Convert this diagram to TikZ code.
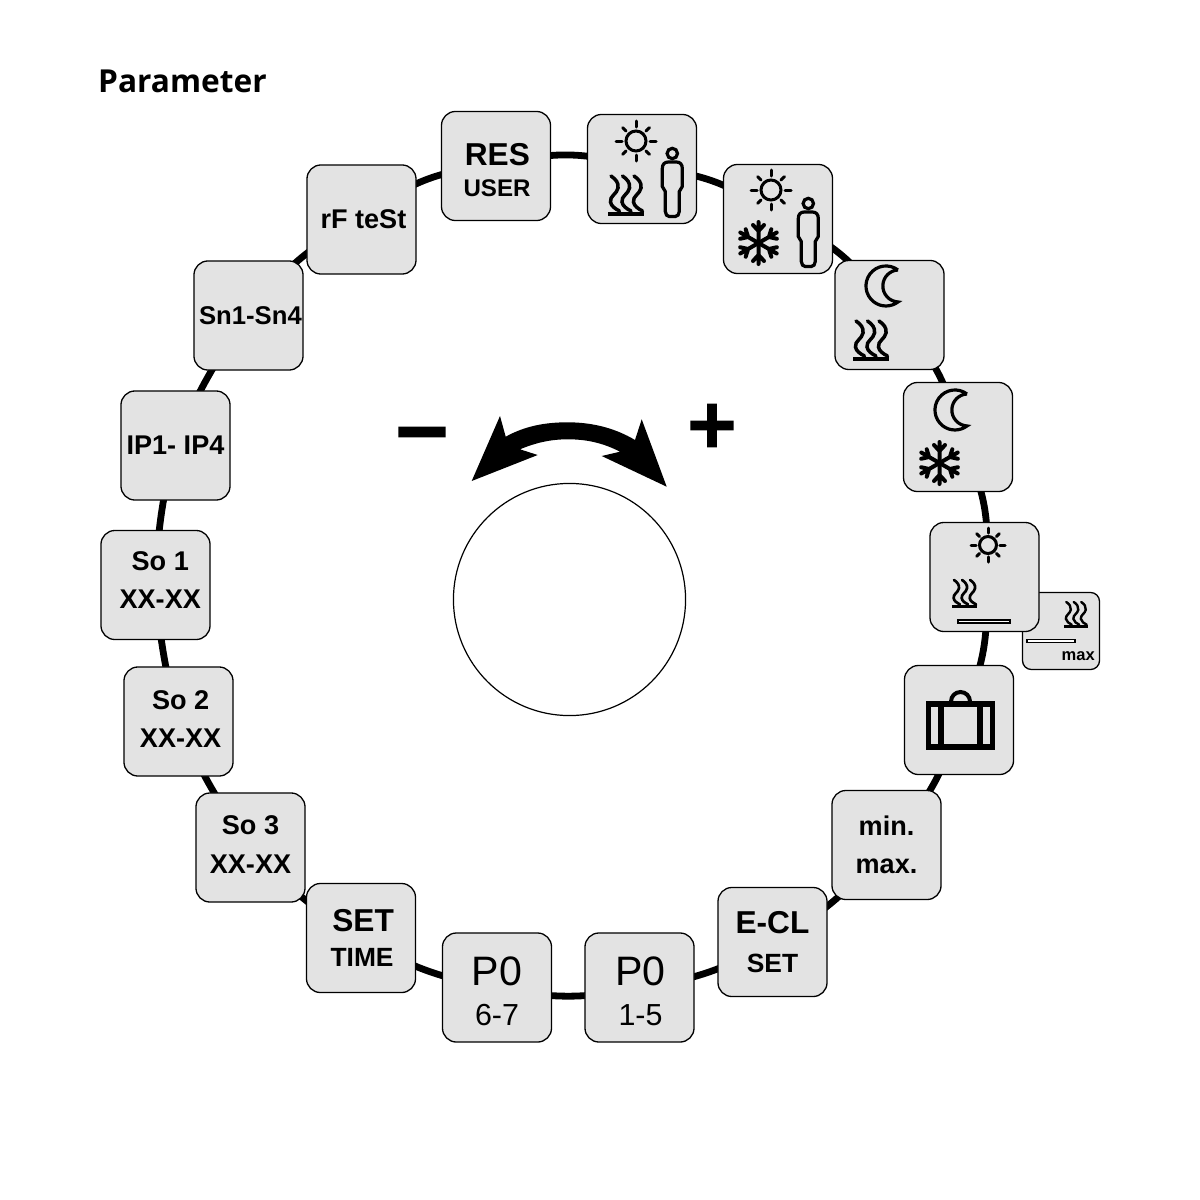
\documentclass[tikz,border=0pt]{standalone}
\usepackage{fontspec}
\setmainfont{Liberation Sans}
\newfontfamily\titlefont{Open Sans}
\newfontfamily\signfont[FakeBold=5]{Liberation Sans}
\usetikzlibrary{backgrounds}

\newcommand{\fbig}{\bfseries\fontsize{9}{11}\selectfont}
\newcommand{\fmid}{\bfseries\fontsize{7.5}{9}\selectfont}
\newcommand{\fsmall}{\bfseries\fontsize{6.85}{9}\selectfont}
\newcommand{\ftxt}{\bfseries\fontsize{7.7}{9}\selectfont}
\newcommand{\fnum}{\fontsize{11.7}{13}\selectfont}
\newcommand{\fsub}{\fontsize{8.65}{10}\selectfont}
% extra room above or below a label, moves it in its box
\newcommand{\padtop}[1]{\rule{0pt}{#1}}
\newcommand{\padlow}[1]{\rule[-#1]{0pt}{#1}}

\tikzset{
    sunicon/.pic={
        \draw (0,0) circle (10);
        \foreach \ang in {0,90,180,270} \draw[line cap=round] (\ang:14) -- (\ang:20);
        \foreach \ang in {45,135,225,315} \draw[line cap=round] (\ang:14) -- (\ang:19);
    },
    heaticon/.pic={
        \fill (-18,0) rectangle (18,4);
        \foreach \dx in {-11.5,0,11.5}
            \draw[line cap=round] (\dx-3.5,40) .. controls (\dx+1,37) and (\dx+4.5,33) .. (\dx+3.5,28)
                .. controls (\dx+2.5,22) and (\dx-5,20) .. (\dx-4,14)
                .. controls (\dx-3.5,10) and (\dx+1,7) .. (\dx+5,5);
    },
    personicon/.pic={
        \draw (0,0) circle (5.2);
        \draw (-4,-8.5) -- (4,-8.5) .. controls (8,-8.5) and (10,-11) .. (10,-15) -- (10,-33)
            .. controls (10,-35) and (7,-36) .. (7,-38) -- (7,-58) .. controls (7,-61) and (5,-63) .. (3,-63)
            -- (-3,-63) .. controls (-5,-63) and (-7,-61) .. (-7,-58) -- (-7,-38)
            .. controls (-7,-36) and (-10,-35) .. (-10,-33) -- (-10,-15)
            .. controls (-10,-11) and (-8,-8.5) .. (-4,-8.5) -- cycle;
    },
    snowicon/.pic={
        \foreach \ang in {30,90,...,330}
            \draw[line cap=round,rotate=\ang] (0,0) -- (21,0) (12,0) -- (18,5.5) (12,0) -- (18,-5.5);
    },
    moonicon/.pic={
        \draw[line join=miter] (15,16) arc[start angle=53,end angle=307,radius=20]
            arc[start angle=267,end angle=93,radius=16];
    },
    caseicon/.pic={
        \draw (-32,-21.5) rectangle (32,21.5);
        \draw (-19.5,-21.5) -- (-19.5,21.5) (19.5,-21.5) -- (19.5,21.5);
        \draw[line width=.04cm] (-9.5,24) arc[start angle=180,end angle=0,radius=9.5];
    },
    flooricon/.pic={
        \draw[fill=white,line width=.017cm] (-26,-1.7) rectangle (26,1.7);
    },
}

\begin{document}
\begin{tikzpicture}[
x=0.01cm, y=0.01cm,
    parambox/.style={rectangle, draw, fill=black!11, line width=.013cm, minimum size=1.09cm, inner sep=0pt, align=center, rounded corners=.14cm},
    smallbox/.style={parambox, minimum size=.77cm, rounded corners=.09cm},
    ring/.style={draw, line width=.068cm},
    knob/.style={circle, draw, line width=.012cm, minimum size=2.32cm, inner sep=0pt},
    thinicon/.style={line width=.03cm},
    thickicon/.style={line width=.04cm},
    outlineicon/.style={line width=.032cm},
]
    \useasboundingbox (0,0) rectangle (1200,-1200);

    \node[anchor=base west, inner sep=0pt, font=\titlefont\bfseries\fontsize{9}{11}\selectfont] (title) at (97.5,-92.5) {Parameter};

    % Small box behind the floor limit
    \node[smallbox] (limit) at (1061,-631) {};
    \node[anchor=base east, inner sep=0pt, font=\bfseries\fontsize{4.7}{6}\selectfont] (maxtext) at (1095.5,-660) {max};

    % Parameter boxes
    \node[parambox] (res) at (496,-166) {\fbig\hspace*{.8pt}\padtop{8.7pt}RES\\[-3.2pt]\fsmall\hspace*{.6pt}USER};
    \node[parambox] (sunheat) at (642,-169) {};
    \node[parambox] (suncool) at (778,-219) {};
    \node[parambox] (moonheat) at (889.5,-315) {};
    \node[parambox] (mooncool) at (958,-437) {};
    \node[parambox] (sunfloor) at (984.5,-577) {};
    \node[parambox] (holiday) at (959,-720) {};
    \node[parambox] (minmax) at (886.5,-845) {\ftxt min.\\[-1.1pt]\ftxt max.};
    \node[parambox] (ecl) at (772.5,-942) {\fbig E-CL\\[-1.1pt]\fmid SET};
    \node[parambox] (pone) at (639.5,-987.5) {\fnum\hspace*{.6pt}\padtop{10.4pt}P0\\[-.5pt]\fsub\hspace*{.6pt}1-5};
    \node[parambox] (psix) at (497,-987.5) {\fnum\padtop{10.4pt}P0\\[-.5pt]\fsub 6-7};
    \node[parambox] (settime) at (361,-938) {\fbig\hspace*{1.2pt}SET\\[-1.9pt]\fmid\hspace*{.6pt}TIME};
    \node[parambox] (sothree) at (250.5,-847.5) {\ftxt So 3\\[-1.1pt]\ftxt XX-XX\padlow{1.6pt}};
    \node[parambox] (sotwo) at (178.5,-721.5) {\ftxt\hspace*{1.2pt}So 2\\[-1.1pt]\ftxt\hspace*{1.2pt}XX-XX\padlow{1.4pt}};
    \node[parambox] (soone) at (155.5,-585) {\ftxt\hspace*{2.7pt}So 1\\[-1.1pt]\ftxt\hspace*{2.7pt}XX-XX\padlow{2.8pt}};
    \node[parambox] (ipfour) at (175.5,-445.5) {\ftxt IP1- IP4};
    \node[parambox] (snfour) at (248.5,-315.5) {\fontsize{7.3}{9}\bfseries\selectfont\hspace*{1.1pt}Sn1-Sn4};
    \node[parambox] (rftest) at (361.5,-219.5) {\ftxt\hspace*{1.1pt}rF teSt};

    % Ring between the boxes
    \begin{scope}[on background layer]
        \foreach \a/\b/\t in {res/sunheat/17, sunheat/suncool/18, suncool/moonheat/19, moonheat/mooncool/20,
            mooncool/sunfloor/18, sunfloor/holiday/16, holiday/minmax/14, minmax/ecl/11, ecl/pone/11,
            pone/psix/12, psix/settime/11, settime/sothree/8, sothree/sotwo/6, sotwo/soone/5,
            soone/ipfour/6, ipfour/snfour/7, snfour/rftest/13, rftest/res/18}
            \draw[ring] (\a.center) to[bend left=\t] (\b.center);
    \end{scope}

    % Icons
    \pic[thinicon] at (636,-141) {sunicon};
    \pic[line width=.035cm] at (626,-216) {heaticon};
    \pic[outlineicon] at (672.3,-153.5) {personicon};

    \pic[thinicon] at (771,-190) {sunicon};
    \pic[thickicon] at (758.5,-243) {snowicon};
    \pic[outlineicon] at (808.3,-203.5) {personicon};

    \pic[outlineicon] at (883,-286) {moonicon};
    \pic[line width=.035cm] at (871,-361) {heaticon};

    \pic[outlineicon] at (952,-410) {moonicon};
    \pic[thickicon] at (939.5,-463) {snowicon};

    \pic[thinicon, scale=.85] at (988,-545) {sunicon};
    \pic[line width=.027cm, scale=.7] at (964.5,-608) {heaticon};
    \pic at (984,-621.5) {flooricon};

    \pic[line width=.024cm, scale=.65] at (1076,-628) {heaticon};
    \pic[scale=.92] at (1051,-641) {flooricon};

    \pic[line width=.055cm] at (960.5,-725.5) {caseicon};

    % Knob and turning arrow
    \node[knob] (knobdial) at (569.5,-599.5) {};
    \fill (471.7,-481) -- (500,-416) -- (505.7,-436.7)
        .. controls (525,-426) and (545,-422.3) .. (567.7,-422.3)
        .. controls (592,-422.3) and (615,-428) .. (635,-440)
        -- (641.7,-419.3) -- (666.7,-486.7) -- (601.7,-456) -- (620,-451.7)
        .. controls (603,-443) and (587,-439.3) .. (567.7,-439.3)
        .. controls (550,-439.3) and (535,-443) .. (520,-449.3)
        -- (537.7,-455) -- cycle;
    \node[inner sep=0pt, font=\signfont\fontsize{25}{27}\selectfont] (minus) at (422,-445) {−};
    \node[inner sep=0pt, font=\signfont\fontsize{23}{25}\selectfont] (plus) at (712,-429) {+};
\end{tikzpicture}
\end{document}
